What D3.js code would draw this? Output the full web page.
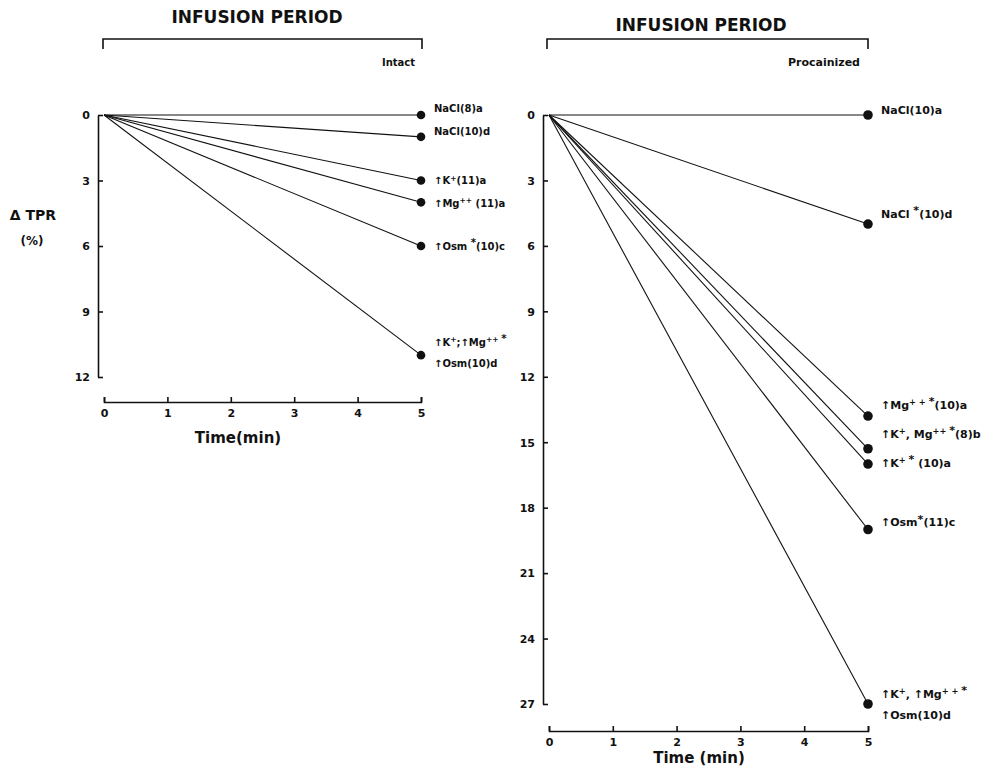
<!DOCTYPE html>
<html>
<head>
<meta charset="utf-8">
<script src="https://cdn.jsdelivr.net/npm/d3@7"></script>
<style>
body { margin: 0; background: #fff; }
text { font-family: "DejaVu Sans", sans-serif; font-weight: bold; fill: #111; }
</style>
</head>
<body>
<svg width="984" height="770"></svg>
<script>
// time points (min)
var times = [0, 5];
var xTicks = [0, 1, 2, 3, 4, 5];

// intact animals: fall in TPR (%) at 5 min
var intactLabels = ["NaCl(8)a", "NaCl(10)d", "↑K^{+}(11)a", "↑Mg^{++} (11)a", "↑Osm ^{*}(10)c", "↑K^{+};↑Mg^{++ *}|↑Osm(10)d"];
var intactEnd = [0, 1, 3, 4, 6, 11];
var intactTicks = [0, 3, 6, 9, 12];

// procainized animals
var procLabels = ["NaCl(10)a", "NaCl ^{*}(10)d", "↑Mg^{+ + *}(10)a", "↑K^{+}, Mg^{++ *}(8)b", "↑K^{+ *} (10)a", "↑Osm^{*}(11)c", "↑K^{+}, ↑Mg^{+ + *}|↑Osm(10)d"];
var procEnd = [0, 5, 13.8, 15.3, 16, 19, 27];
var procTicks = [0, 3, 6, 9, 12, 15, 18, 21, 24, 27];

var svg = d3.select("svg");

// writes "a^{b}c" as text with raised tspans, asterisks drawn bigger
function rich(t, str) {
  var parts = str.split(/(\^\{[^}]*\})/);
  var up = false;
  parts.forEach(function(p) {
    if (!p) return;
    if (p[0] == "^") {
      var sup = t.append("tspan").attr("font-size", "75%").attr("dy", "-0.45em");
      p.slice(2, -1).split(/(\*)/).forEach(function(q) {
        if (!q) return;
        sup.append("tspan").attr("font-size", q == "*" ? "135%" : null).text(q);
      });
      up = true;
    } else {
      var ts = t.append("tspan").text(p);
      if (up) { ts.attr("dy", "0.34em"); up = false; }
    }
  });
}

function panel(o) {
  var x = d3.scaleLinear().domain([0, 5]).range([o.x0, o.x1]);
  var y = d3.scaleLinear().domain([0, o.ticks[o.ticks.length - 1]]).range([115, o.yBottom]);

  // header
  svg.append("text")
    .attr("x", o.titleX).attr("y", o.titleY)
    .attr("text-anchor", "middle")
    .attr("font-size", 17)
    .text("INFUSION PERIOD");
  svg.append("path")
    .attr("d", "M" + o.bx0 + "," + (o.bracketY + 10) + "V" + o.bracketY + "H" + o.bx1 + "V" + (o.bracketY + 10))
    .attr("fill", "none").attr("stroke", "#111").attr("stroke-width", 1.6);
  svg.append("text")
    .attr("x", o.subX).attr("y", 66)
    .attr("text-anchor", "end")
    .attr("font-size", o.subSize)
    .text(o.sub);

  // y axis
  var ya = svg.append("g")
    .attr("transform", "translate(" + o.yAxisX + ",0)")
    .call(d3.axisLeft(y).tickValues(o.ticks).tickSizeInner(-5).tickSizeOuter(0).tickPadding(8).tickFormat(d3.format("d")));
  ya.selectAll("path,line").attr("stroke", "#111").attr("stroke-width", 1.6);
  ya.selectAll("text").attr("font-size", 11).attr("font-family", null).attr("dy", "0.35em");

  // x axis
  var xa = svg.append("g")
    .attr("transform", "translate(0," + o.xAxisY + ")")
    .call(d3.axisBottom(x).tickValues(xTicks).tickSizeInner(-5).tickSizeOuter(-5).tickPadding(7).tickFormat(d3.format("d")));
  xa.selectAll("path,line").attr("stroke", "#111").attr("stroke-width", 1.6);
  xa.selectAll("text").attr("font-size", 11).attr("font-family", null);

  svg.append("text")
    .attr("x", o.timeX).attr("y", o.xAxisY + o.timeDy)
    .attr("text-anchor", "middle")
    .attr("font-size", o.timeSize)
    .text(o.timeText);

  // lines from origin
  var rows = o.end.map(function(v, i) { return {v: v, label: o.labels[i], dy: o.dy[i]}; });
  var line = d3.line().x(function(d) { return x(d[0]); }).y(function(d) { return y(d[1]); });

  svg.append("g").selectAll("path")
    .data(rows).enter().append("path")
    .attr("d", function(d) { return line([[times[0], 0], [times[1], d.v]]); })
    .attr("fill", "none").attr("stroke", "#111").attr("stroke-width", 1.1);

  svg.append("g").selectAll("circle")
    .data(rows).enter().append("circle")
    .attr("cx", x(times[1])).attr("cy", function(d) { return y(d.v); })
    .attr("r", o.r).attr("fill", "#111");

  rows.forEach(function(d) {
    d.label.split("|").forEach(function(s, k) {
      var t = svg.append("text")
        .attr("x", x(times[1]) + 13)
        .attr("y", y(d.v) + d.dy[k])
        .attr("dy", "0.35em")
        .attr("font-size", o.labelSize);
      rich(t, s);
    });
  });
}

panel({
  x0: 104, x1: 421, yAxisX: 98, yBottom: 377, xAxisY: 402,
  ticks: intactTicks, end: intactEnd, labels: intactLabels,
  dy: [[-7], [-5], [0], [1], [0], [-13, 8]],
  titleX: 257, titleY: 23, bracketY: 39, bx0: 103, bx1: 422,
  sub: "Intact", subX: 415, subSize: 10,
  timeX: 238, timeText: "Time(min)", timeDy: 41, timeSize: 15, r: 4.3, labelSize: 10
});

panel({
  x0: 549, x1: 868, yAxisX: 543, yBottom: 704, xAxisY: 731,
  ticks: procTicks, end: procEnd, labels: procLabels,
  dy: [[-5], [-10], [-11], [-15], [-1], [-7], [-10, 11]],
  titleX: 701, titleY: 31, bracketY: 39, bx0: 547, bx1: 868,
  sub: "Procainized", subX: 860, subSize: 11,
  timeX: 699, timeText: "Time (min)", timeDy: 32, timeSize: 15, r: 4.8, labelSize: 11
});

// y label
svg.append("text").attr("x", 33).attr("y", 220).attr("text-anchor", "middle").attr("font-size", 14).text("Δ TPR");
svg.append("text").attr("x", 32).attr("y", 245).attr("text-anchor", "middle").attr("font-size", 12).text("(%)");
</script>
</body>
</html>
